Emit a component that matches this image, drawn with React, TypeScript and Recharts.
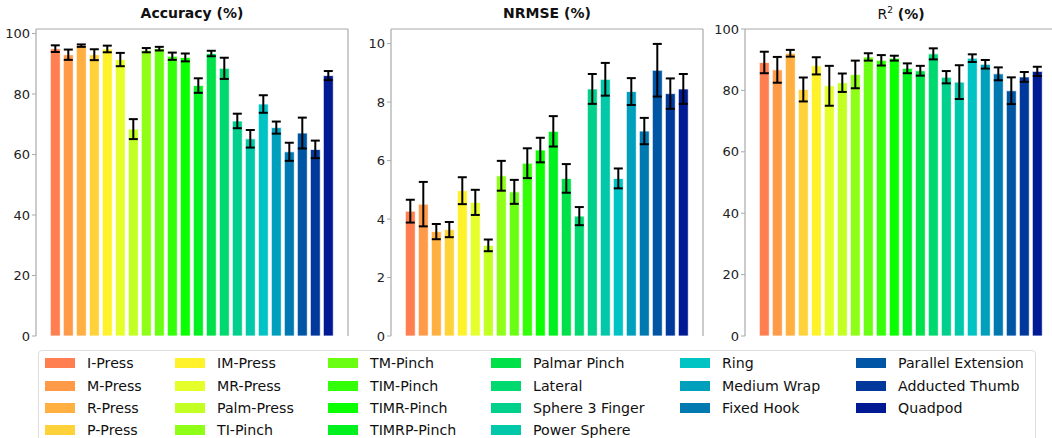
import React from "react"
import { BarChart, Bar, XAxis, YAxis, Cell, ErrorBar, CartesianGrid } from "recharts"

const gestures = [
  "I-Press", "M-Press", "R-Press", "P-Press", "IM-Press", "MR-Press", "Palm-Press", "TI-Pinch",
  "TM-Pinch", "TIM-Pinch", "TIMR-Pinch", "TIMRP-Pinch", "Palmar Pinch", "Lateral", "Sphere 3 Finger",
  "Power Sphere", "Ring", "Medium Wrap", "Fixed Hook", "Parallel Extension", "Adducted Thumb", "Quadpod",
]

const colors = [
  "#ff7f50", "#ff9a48", "#ffb040", "#ffd23a", "#fff22a", "#e5ff2a", "#c2ff22", "#90ff18",
  "#6aff12", "#33ff08", "#0aff00", "#00f020", "#00e048", "#00d870", "#00d08c",
  "#00c8a8", "#00c4c4", "#00a0bc", "#0078b0", "#0055a4", "#00389c", "#001a94",
]

const accuracy = [95.0, 93.0, 96.0, 93.0, 94.9, 91.4, 68.4, 94.5, 95.0, 92.5, 92.1, 82.8, 93.4, 88.5, 71.1, 65.2, 76.7, 68.9, 60.9, 67.1, 61.7, 86.1]
const accuracyErr = [1.1, 1.7, 0.4, 1.8, 1.1, 2.2, 3.3, 0.7, 0.6, 1.2, 1.3, 2.4, 0.9, 3.5, 2.4, 2.9, 2.9, 2.0, 3.0, 5.1, 2.9, 1.5]

const nrmse = [4.27, 4.51, 3.57, 3.64, 4.97, 4.57, 3.1, 5.48, 4.93, 5.91, 6.36, 7.0, 5.39, 4.1, 8.45, 8.78, 5.39, 8.36, 7.01, 9.09, 8.29, 8.45]
const nrmseErr = [0.39, 0.76, 0.26, 0.26, 0.46, 0.43, 0.2, 0.51, 0.41, 0.51, 0.42, 0.52, 0.49, 0.31, 0.51, 0.56, 0.34, 0.46, 0.45, 0.9, 0.52, 0.51]

const r2 = [89.1, 86.7, 92.1, 80.3, 88.0, 81.5, 82.5, 85.2, 90.9, 89.8, 90.5, 87.2, 86.4, 91.9, 84.3, 82.7, 90.5, 88.5, 85.4, 79.9, 84.4, 86.2]
const r2Err = [3.5, 4.2, 1.1, 3.9, 2.8, 6.5, 3.0, 4.5, 1.2, 1.7, 0.8, 1.6, 1.6, 1.8, 2.0, 5.5, 1.25, 1.4, 2.1, 4.35, 1.6, 1.5]

const accuracyTicks = [0, 20, 40, 60, 80, 100]
const nrmseTicks = [0, 2, 4, 6, 8, 10]
const r2Ticks = [0, 20, 40, 60, 80, 100]

// legend columns, as matplotlib lays them out (ncol=6)
const legendColumns = [[0, 1, 2, 3], [4, 5, 6, 7], [8, 9, 10, 11], [12, 13, 14, 15], [16, 17, 18], [19, 20, 21]]
const legendColumnLeft = [6, 136, 289, 452, 641, 817]

const FONT = "'DejaVu Sans', Verdana, sans-serif"
const SPINE = "#aaaaaa"

interface PanelProps {
  title: React.ReactNode
  values: number[]
  errors: number[]
  ticks: number[]
  domain: [number, number]
  left: number
  yAxisWidth: number
}

function Panel({ title, values, errors, ticks, domain, left, yAxisWidth }: PanelProps) {
  const data = gestures.map((name, i) => ({ name, value: values[i], err: errors[i] }))
  const plotWidth = 312
  const width = 360
  return (
    <div style={{ position: "absolute", left, top: 0, width, height: 345 }}>
      <div
        style={{
          position: "absolute",
          left: yAxisWidth,
          width: plotWidth,
          top: 5,
          textAlign: "center",
          fontFamily: FONT,
          fontSize: 14,
          fontWeight: "bold",
          color: "#111",
        }}
      >
        {title}
      </div>
      <BarChart
        width={width}
        height={345}
        data={data}
        margin={{ top: 29, right: width - yAxisWidth - plotWidth, left: 0, bottom: 9 }}
        barCategoryGap="10%"
      >
        {/* top and right spines */}
        <CartesianGrid
          stroke={SPINE}
          strokeWidth={1.2}
          horizontalCoordinatesGenerator={({ offset }: any) => [offset.top]}
          verticalCoordinatesGenerator={({ offset }: any) => [offset.left + offset.width]}
        />
        <XAxis
          dataKey="name"
          tick={false}
          tickLine={false}
          height={0}
          axisLine={{ stroke: SPINE, strokeWidth: 1.2 }}
          padding={{ left: 13, right: 13 }}
        />
        <YAxis
          type="number"
          domain={domain}
          ticks={ticks}
          width={yAxisWidth}
          allowDataOverflow
          tickSize={4}
          tickMargin={2}
          tickLine={{ stroke: SPINE }}
          axisLine={{ stroke: SPINE, strokeWidth: 1.2 }}
          tick={{ fill: "#222", fontSize: 13, fontFamily: FONT }}
        />
        <Bar dataKey="value" isAnimationActive={false} stroke="#ffffff" strokeWidth={0.8}>
          {data.map((d, i) => (
            <Cell key={d.name} fill={colors[i]} />
          ))}
          <ErrorBar dataKey="err" direction="y" width={4.5} stroke="#000" strokeWidth={2} />
        </Bar>
      </BarChart>
    </div>
  )
}

export default function App() {
  return (
    <div
      style={{
        position: "absolute",
        left: 0,
        top: 0,
        width: 1052,
        height: 438,
        overflow: "hidden",
        background: "#fff",
      }}
    >
      <Panel title="Accuracy (%)" values={accuracy} errors={accuracyErr} ticks={accuracyTicks} domain={[0, 101.5]} left={0} yAxisWidth={36} />
      <Panel title="NRMSE (%)" values={nrmse} errors={nrmseErr} ticks={nrmseTicks} domain={[0, 10.5]} left={350} yAxisWidth={41} />
      <Panel
        title={
          <span>
            <span style={{ fontWeight: "normal" }}>
              R<sup style={{ fontSize: 9 }}>2</sup>
            </span>
            {" (%)"}
          </span>
        }
        values={r2}
        errors={r2Err}
        ticks={r2Ticks}
        domain={[0, 100]}
        left={700}
        yAxisWidth={45}
      />
      <div
        style={{
          position: "absolute",
          left: 38,
          top: 350,
          width: 998,
          height: 110,
          border: "1px solid #dddddd",
          borderRadius: 4,
          boxSizing: "border-box",
          fontFamily: FONT,
          fontSize: 14.2,
          color: "#111",
        }}
      >
        {legendColumns.map((col, c) => (
          <div key={c} style={{ position: "absolute", left: legendColumnLeft[c], top: 1 }}>
            {col.map((idx) => (
              <div key={idx} style={{ display: "flex", alignItems: "center", height: 22.4, whiteSpace: "nowrap" }}>
                <span style={{ display: "inline-block", width: 30, height: 10, background: colors[idx], marginRight: 12 }} />
                <span>{gestures[idx]}</span>
              </div>
            ))}
          </div>
        ))}
      </div>
    </div>
  )
}
